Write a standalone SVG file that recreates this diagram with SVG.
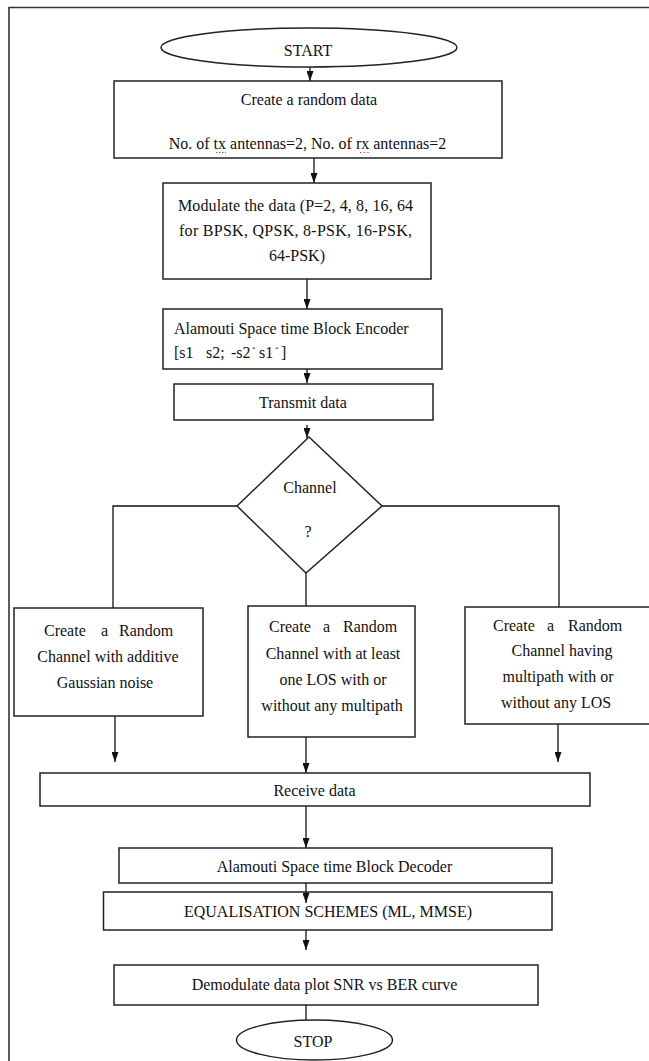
<svg xmlns="http://www.w3.org/2000/svg" width="649" height="1061" viewBox="0 0 649 1061">
<style>
.n{fill:#fff;stroke:#222;stroke-width:1.5}
.t{font-family:"Liberation Serif","Times New Roman",serif;font-size:16px;fill:#111}
.m{text-anchor:middle}
.c{stroke:#111;stroke-width:1.3;fill:none}
.a{marker-end:url(#ah)}
.fr{stroke:#333;stroke-width:1.6;fill:none}
</style>
<defs>
<marker id="ah" viewBox="0 0 10 7" refX="10" refY="3.5" markerUnits="userSpaceOnUse" markerWidth="10" markerHeight="7" orient="auto">
<path d="M0,0 L10,3.5 L0,7 z" fill="#111"/>
</marker>
</defs>
<rect width="649" height="1061" fill="#fff"/>
<path class="fr" d="M9,1061 V7.5 H649"/>

<g id="connectors">
<line class="c a" x1="310" y1="67" x2="310" y2="81"/>
<line class="c a" x1="314" y1="158" x2="314" y2="183"/>
<line class="c a" x1="307" y1="279" x2="307" y2="309"/>
<line class="c a" x1="307" y1="369" x2="307" y2="383"/>
<line class="c a" x1="307" y1="425" x2="307" y2="438"/>
<polyline class="c" points="237,506 113,506 113,618"/>
<polyline class="c" points="382,506 559,506 559,607"/>
<line class="c" x1="306" y1="573" x2="306" y2="606"/>
<line class="c a" x1="115" y1="716" x2="115" y2="762"/>
<line class="c a" x1="306" y1="737" x2="306" y2="773"/>
<line class="c a" x1="558" y1="724" x2="558" y2="762"/>
<line class="c a" x1="306" y1="806" x2="306" y2="848"/>
<line class="c a" x1="306" y1="930" x2="306" y2="950"/>
<line class="c" x1="306" y1="1005" x2="306" y2="1020"/>
</g>

<g id="start">
<ellipse class="n" cx="309" cy="47.5" rx="148" ry="19.5"/>
<text class="t m" x="308" y="55.5">START</text>
</g>

<g id="create-data">
<rect class="n" x="114" y="81" width="388" height="77"/>
<text class="t m" x="309" y="105">Create a random data</text>
<text class="t m" x="307.5" y="149">No. of tx antennas=2, No. of rx antennas=2</text>
<line x1="216" y1="152.5" x2="226" y2="152.5" stroke="#3a9a3a" stroke-width="1.2" stroke-dasharray="1.5,1.5"/>
<line x1="360" y1="152.5" x2="370" y2="152.5" stroke="#e03030" stroke-width="1.2" stroke-dasharray="1.2,2.5"/>
</g>

<g id="modulate">
<rect class="n" x="163" y="183" width="268" height="96"/>
<text class="t" x="178" y="210.5" textLength="235" lengthAdjust="spacing">Modulate the data (P=2, 4, 8, 16, 64</text>
<text class="t" x="179" y="235.5" textLength="233" lengthAdjust="spacing">for BPSK, QPSK, 8-PSK, 16-PSK,</text>
<text class="t m" x="297" y="260.5">64-PSK)</text>
</g>

<g id="encoder">
<rect class="n" x="163" y="309" width="279" height="60"/>
<text class="t" x="174" y="334">Alamouti Space time Block Encoder</text>
<text class="t" y="358"><tspan x="174">[s1</tspan><tspan x="206">s2;</tspan><tspan x="231">-s2</tspan><tspan x="252" dy="-7" font-size="7">*</tspan><tspan x="259" dy="7">s1</tspan><tspan x="275" dy="-7" font-size="7">*</tspan><tspan x="281" dy="7">]</tspan></text>
</g>

<g id="transmit">
<rect class="n" x="174" y="384" width="259" height="36"/>
<text class="t m" x="303" y="408">Transmit data</text>
</g>

<g id="channel">
<polygon class="n" points="309,437 382,506 306,573 237,506"/>
<text class="t m" x="310" y="493">Channel</text>
<text class="t m" x="308" y="537">?</text>
</g>

<g id="awgn">
<rect class="n" x="14" y="608" width="189" height="108"/>
<text class="t" y="636"><tspan x="44">Create</tspan><tspan x="101">a</tspan><tspan x="119">Random</tspan></text>
<text class="t m" x="108" y="662">Channel with additive</text>
<text class="t m" x="105" y="688">Gaussian noise</text>
</g>

<g id="los">
<rect class="n" x="248" y="606" width="167" height="131"/>
<text class="t" y="632"><tspan x="269">Create</tspan><tspan x="323">a</tspan><tspan x="343">Random</tspan></text>
<text class="t m" x="333" y="659">Channel with at least</text>
<text class="t m" x="333" y="685">one LOS with or</text>
<text class="t m" x="332" y="711">without any multipath</text>
</g>

<g id="multipath">
<rect class="n" x="465" y="607" width="190" height="117"/>
<text class="t" y="631"><tspan x="493">Create</tspan><tspan x="547">a</tspan><tspan x="568">Random</tspan></text>
<text class="t m" x="562" y="656">Channel having</text>
<text class="t m" x="558" y="682">multipath with or</text>
<text class="t m" x="556" y="708">without any LOS</text>
</g>

<g id="receive">
<rect class="n" x="40" y="773" width="550" height="33"/>
<text class="t m" x="314.5" y="795.5">Receive data</text>
</g>

<g id="decoder">
<rect class="n" x="119" y="848" width="433" height="35"/>
<text class="t m" x="334.5" y="871.5">Alamouti Space time Block Decoder</text>
</g>

<g id="equalisation">
<rect class="n" x="103.5" y="892" width="448.5" height="38"/>
<text class="t m" x="328" y="916.5">EQUALISATION SCHEMES (ML, MMSE)</text>
<line class="c a" x1="306" y1="883" x2="306" y2="903"/>
</g>

<g id="demodulate">
<rect class="n" x="114" y="965" width="424" height="40"/>
<text class="t m" x="324.5" y="990">Demodulate data plot SNR vs BER curve</text>
</g>

<g id="stop">
<ellipse class="n" cx="314.5" cy="1040" rx="78" ry="20"/>
<text class="t m" x="313" y="1047">STOP</text>
</g>
</svg>
